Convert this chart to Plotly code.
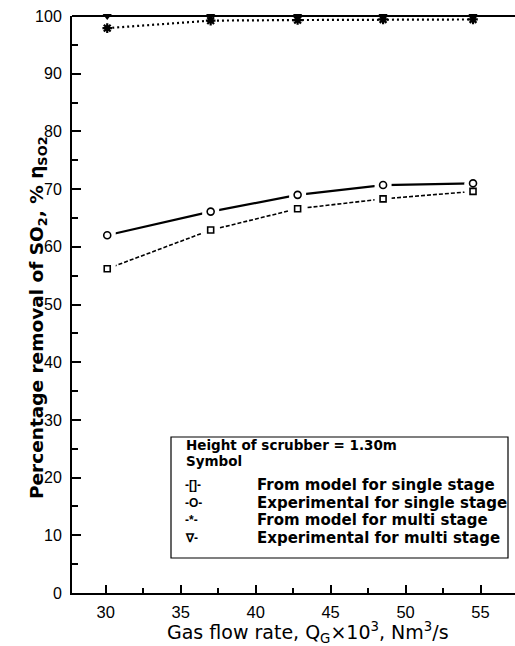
import plotly.graph_objects as go

gas_flow = [30.1, 37.0, 42.8, 48.5, 54.5]
model_single = [56.2, 62.9, 66.6, 68.3, 69.6]
exp_single = [62.0, 66.1, 69.0, 70.7, 71.0]
model_multi = [97.9, 99.2, 99.3, 99.4, 99.4]
exp_multi = [100.0, 100.0, 100.0, 100.0, 100.0]

legend_title = "Height of scrubber = 1.30m"
legend_sub = "Symbol"
legend_symbols = ["-[]-", "-O-", "-*-", "∇-"]
legend_labels = ["From model for single stage", "Experimental for single stage",
                 "From model for multi stage", "Experimental for multi stage"]

x_title = "Gas flow rate, Q<sub>G</sub>×10<sup>3</sup>, Nm<sup>3</sup>/s"
y_title = "<b>Percentage removal of SO<sub>2</sub>, % η<sub>SO2</sub></b>"

L, R, T, B, W, H = 72, 0, 16, 53, 515, 646
PW, PH = W - L - R, H - T - B


def px(x):
    return (x - L) / PW


def py(y):
    return (H - B - y) / PH


fig = go.Figure()

# lines
fig.add_trace(go.Scatter(x=gas_flow, y=model_single, mode="lines",
                         line=dict(color="black", width=1.6, dash="4px,2px"), showlegend=False))
fig.add_trace(go.Scatter(x=gas_flow, y=exp_single, mode="lines",
                         line=dict(color="black", width=2.2), showlegend=False))
fig.add_trace(go.Scatter(x=gas_flow, y=model_multi, mode="lines",
                         line=dict(color="black", width=2.2, dash="2px,3px"), showlegend=False, cliponaxis=False))
fig.add_trace(go.Scatter(x=gas_flow, y=exp_multi, mode="lines",
                         line=dict(color="black", width=2), showlegend=False, cliponaxis=False))
# white halos to create gaps around markers
for ys in (model_single, exp_single):
    fig.add_trace(go.Scatter(x=gas_flow, y=ys, mode="markers",
                             marker=dict(symbol="square", size=17, color="white"), showlegend=False))
# markers
fig.add_trace(go.Scatter(x=gas_flow, y=model_single, mode="markers",
                         marker=dict(symbol="square-open", size=6, color="black", line=dict(width=1.6)),
                         showlegend=False))
fig.add_trace(go.Scatter(x=gas_flow, y=exp_single, mode="markers",
                         marker=dict(symbol="circle-open", size=7, color="black", line=dict(width=1.6)),
                         showlegend=False))
fig.add_trace(go.Scatter(x=gas_flow, y=model_multi, mode="markers", cliponaxis=False,
                         marker=dict(symbol="asterisk-open", size=8, color="black", line=dict(width=2.2)),
                         showlegend=False))
fig.add_trace(go.Scatter(x=gas_flow, y=exp_multi, mode="markers", cliponaxis=False,
                         marker=dict(symbol="triangle-down", size=8, color="black"),
                         showlegend=False))

font_main = "Liberation Sans, Arial, sans-serif"
font_leg = "DejaVu Sans, sans-serif"

# legend box
fig.add_shape(type="rect", xref="paper", yref="paper",
              x0=px(171), x1=px(508), y0=py(558), y1=py(437),
              line=dict(color="black", width=1.2), fillcolor="white")
fig.add_annotation(xref="paper", yref="paper", x=px(184), y=py(445),
                   text="<b>" + legend_title + "</b>", showarrow=False, xanchor="left", yanchor="middle",
                   font=dict(size=13.5, color="black", family=font_leg))
fig.add_annotation(xref="paper", yref="paper", x=px(184), y=py(461),
                   text="<b>" + legend_sub + "</b>", showarrow=False, xanchor="left", yanchor="middle",
                   font=dict(size=13.5, color="black", family=font_leg))
row_y = [485, 503, 520, 538]
for s, l, yy in zip(legend_symbols, legend_labels, row_y):
    fig.add_annotation(xref="paper", yref="paper", x=px(183), y=py(yy),
                       text="<b>" + s + "</b>", showarrow=False, xanchor="left", yanchor="middle",
                       font=dict(size=12, color="black", family=font_main))
    fig.add_annotation(xref="paper", yref="paper", x=px(255), y=py(yy),
                       text="<b>" + l + "</b>", showarrow=False, xanchor="left", yanchor="middle",
                       font=dict(size=15, color="black", family=font_leg))

# axis titles
fig.add_annotation(xref="paper", yref="paper", x=px(308), y=py(632),
                   text=x_title, showarrow=False, xanchor="center", yanchor="middle",
                   font=dict(size=19, color="black", family=font_leg))
fig.add_annotation(xref="paper", yref="paper", x=px(38), y=py(318),
                   text=y_title, showarrow=False, xanchor="center", yanchor="middle", textangle=-90,
                   font=dict(size=18.5, color="black", family=font_leg))

# top frame line
fig.add_shape(type="line", xref="paper", yref="paper", x0=0, x1=1, y0=1, y1=1,
              line=dict(color="black", width=2))

fig.update_xaxes(range=[27.75, 57.3], tickvals=[30, 35, 40, 45, 50, 55],
                 ticks="inside", ticklen=8, tickwidth=2, tickcolor="black", ticklabelstandoff=3,
                 minor=dict(dtick=2.5, ticks="inside", ticklen=5, tickwidth=1.5, tickcolor="black"),
                 showline=True, linecolor="black", linewidth=2, showgrid=False, zeroline=False,
                 tickfont=dict(size=16.5, color="black", family=font_main))
fig.update_yaxes(range=[0, 100], tickvals=list(range(0, 101, 10)),
                 ticks="inside", ticklen=9, tickwidth=2, tickcolor="black", ticklabelstandoff=5,
                 minor=dict(dtick=5, ticks="inside", ticklen=6, tickwidth=1.5, tickcolor="black"),
                 showline=True, linecolor="black", linewidth=2, showgrid=False, zeroline=False,
                 tickfont=dict(size=16, color="black", family=font_main))

fig.update_layout(width=W, height=H, margin=dict(l=L, r=R, t=T, b=B),
                  plot_bgcolor="white", paper_bgcolor="white", showlegend=False)

fig.write_html("out.html")
